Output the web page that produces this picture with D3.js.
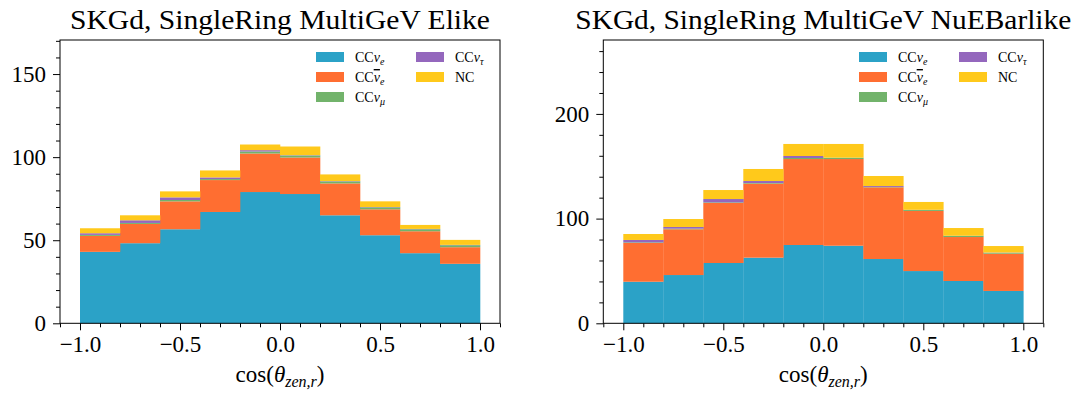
<!DOCTYPE html>
<html>
<head>
<meta charset="utf-8">
<script src="https://cdn.jsdelivr.net/npm/d3@7"></script>
<style>
  body { margin: 0; background: #fff; }
  svg { display: block; font-family: "Liberation Serif", "DejaVu Serif", serif; }
</style>
</head>
<body>
<svg id="chart" width="1076" height="399"></svg>
<script>
// bin edges of cos(theta_zen,r)
const binEdges = [-1.0, -0.8, -0.6, -0.4, -0.2, 0.0, 0.2, 0.4, 0.6, 0.8, 1.0];
const seriesKeys = ["ccnue", "ccnuebar", "ccnumu", "ccnutau", "nc"];
const seriesColors = ["#2ba2c7", "#ff6e31", "#72b36b", "#9467bd", "#ffc91b"];

// SingleRing MultiGeV Elike (per-component contents)
const elikeCCnue    = [43.0, 48.2, 56.6, 67.0, 79.0, 77.8, 65.0, 53.0, 42.2, 35.8];
const elikeCCnuebar = [9.6, 11.6, 16.8, 19.2, 23.2, 22.0, 19.2, 15.6, 13.2, 10.0];
const elikeCCnumu   = [0.6, 0.6, 0.8, 0.6, 1.2, 1.2, 1.2, 1.2, 1.2, 1.2];
const elikeCCnutau  = [1.0, 1.6, 1.6, 1.0, 0.8, 0.2, 0.2, 0.2, 0.2, 0.2];
const elikeNC       = [3.0, 3.0, 3.6, 4.2, 3.4, 5.2, 4.0, 3.4, 2.4, 3.0];

// SingleRing MultiGeV NuEBarlike
const nuebarCCnue    = [39.7, 46.1, 57.6, 62.7, 74.8, 74.1, 61.4, 49.9, 40.4, 30.9];
const nuebarCCnuebar = [37.0, 43.7, 57.3, 70.7, 82.1, 82.8, 68.5, 57.4, 42.0, 35.6];
const nuebarCCnumu   = [0.6, 0.6, 0.6, 0.6, 1.0, 1.3, 0.3, 0.9, 1.0, 0.9];
const nuebarCCnutau  = [2.3, 1.6, 3.2, 1.9, 1.9, 0.0, 0.9, 0.2, 0.2, 0.2];
const nuebarNC       = [5.7, 7.6, 8.6, 11.5, 11.5, 13.1, 9.6, 7.5, 7.4, 6.2];

const xMajorTicks = [-1.0, -0.5, 0.0, 0.5, 1.0];

const panels = [
  {
    title: "SKGd, SingleRing MultiGeV Elike", titleWidth: 420,
    left: 60, right: 500, yMax: 170.5,
    yMajor: [0, 50, 100, 150], yMinorStep: 10,
    series: [elikeCCnue, elikeCCnuebar, elikeCCnumu, elikeCCnutau, elikeNC],
    legendX: 316,
  },
  {
    title: "SKGd, SingleRing MultiGeV NuEBarlike", titleWidth: 496,
    left: 603.3, right: 1043.3, yMax: 270.6,
    yMajor: [0, 100, 200], yMinorStep: 20,
    series: [nuebarCCnue, nuebarCCnuebar, nuebarCCnumu, nuebarCCnutau, nuebarNC],
    legendX: 859,
  },
];

const svg = d3.select("#chart");
const plotTop = 40, plotBottom = 323.3;
const tickFont = 23;

// legend label pieces: [text, style]  n normal, i italic, sub subscript, bar overline
const legendItems = [
  { col: 0, row: 0, parts: [["CC", "n"], ["ν", "i"], ["e", "sub"]] },
  { col: 0, row: 1, parts: [["CC", "n"], ["ν", "bar"], ["e", "sub"]] },
  { col: 0, row: 2, parts: [["CC", "n"], ["ν", "i"], ["μ", "sub"]] },
  { col: 1, row: 0, parts: [["CC", "n"], ["ν", "i"], ["τ", "sub"]] },
  { col: 1, row: 1, parts: [["NC", "n"]] },
];

panels.forEach((p) => drawPanel(p));

function drawPanel(p) {
  const x = d3.scaleLinear().domain([-1.1, 1.1]).range([p.left, p.right]);
  const y = d3.scaleLinear().domain([0, p.yMax]).range([plotBottom, plotTop]);

  const rows = binEdges.slice(0, -1).map((lo, i) => {
    const r = { lo: lo, hi: binEdges[i + 1] };
    seriesKeys.forEach((k, j) => (r[k] = p.series[j][i]));
    return r;
  });
  const stacked = d3.stack().keys(seriesKeys)(rows);

  const g = svg.append("g");

  g.selectAll("g.layer")
    .data(stacked)
    .join("g")
    .attr("class", "layer")
    .attr("fill", (d, i) => seriesColors[i])
    .selectAll("rect")
    .data((d) => d)
    .join("rect")
    .attr("x", (d) => x(d.data.lo))
    .attr("width", (d) => x(d.data.hi) - x(d.data.lo) + 0.3)
    .attr("y", (d) => y(d[1]))
    .attr("height", (d) => Math.max(0, y(d[0]) - y(d[1])));

  // x axis
  const xMinor = d3.range(-11, 12).map((v) => v / 10)
    .filter((v) => !xMajorTicks.some((m) => Math.abs(m - v) < 1e-9));
  g.append("g")
    .attr("transform", `translate(0,${plotBottom})`)
    .call(d3.axisBottom(x).tickValues(xMinor).tickSize(4).tickFormat(""))
    .call((a) => a.select(".domain").remove());
  const xAx = g.append("g")
    .attr("transform", `translate(0,${plotBottom})`)
    .call(d3.axisBottom(x).tickValues(xMajorTicks).tickSize(7).tickPadding(5)
      .tickFormat((d) => d3.format(".1f")(d).replace("-", "−")));
  xAx.select(".domain").remove();
  xAx.selectAll("text").attr("font-size", tickFont).attr("fill", "#000");

  // y axis
  const yMinor = d3.range(0, p.yMax, p.yMinorStep).filter((v) => !p.yMajor.includes(v));
  g.append("g")
    .attr("transform", `translate(${p.left},0)`)
    .call(d3.axisLeft(y).tickValues(yMinor).tickSize(4).tickFormat(""))
    .call((a) => a.select(".domain").remove());
  const yAx = g.append("g")
    .attr("transform", `translate(${p.left},0)`)
    .call(d3.axisLeft(y).tickValues(p.yMajor).tickSize(7).tickPadding(7));
  yAx.select(".domain").remove();
  yAx.selectAll("text").attr("font-size", tickFont).attr("fill", "#000");
  g.selectAll(".tick line").attr("stroke", "#000").attr("stroke-width", 1);
  g.selectAll("g[font-family]").attr("font-family", null);

  // frame
  g.append("rect")
    .attr("x", p.left).attr("y", plotTop)
    .attr("width", p.right - p.left).attr("height", plotBottom - plotTop)
    .attr("fill", "none").attr("stroke", "#000").attr("stroke-width", 1);

  // title
  g.append("text")
    .attr("x", (p.left + p.right) / 2).attr("y", 29)
    .attr("text-anchor", "middle").attr("font-size", 27)
    .attr("textLength", p.titleWidth).attr("lengthAdjust", "spacingAndGlyphs")
    .text(p.title);

  // x label
  const xl = g.append("text")
    .attr("x", (p.left + p.right) / 2).attr("y", 382)
    .attr("text-anchor", "middle").attr("font-size", tickFont);
  xl.append("tspan").text("cos(");
  xl.append("tspan").attr("font-style", "italic").text("θ");
  xl.append("tspan").attr("font-style", "italic").attr("font-size", 16).attr("dy", 5).text("zen,r");
  xl.append("tspan").attr("dy", -5).text(")");

  // legend
  const lg = g.append("g");
  legendItems.forEach((it, i) => {
    const lx = p.legendX + it.col * 100;
    const ly = 52 + it.row * 20;
    lg.append("rect").attr("x", lx).attr("y", ly).attr("width", 28).attr("height", 10)
      .attr("fill", seriesColors[i]);
    const t = lg.append("text").attr("x", lx + 39).attr("y", ly + 10).attr("font-size", 14);
    it.parts.forEach(([s, st]) => {
      const ts = t.append("tspan").text(s);
      if (st === "i") ts.attr("font-style", "italic");
      if (st === "bar") ts.attr("font-style", "italic").style("text-decoration", "overline");
      if (st === "sub") ts.attr("font-style", "italic").attr("font-size", 10).attr("dy", 3);
    });
  });
}
</script>
</body>
</html>
